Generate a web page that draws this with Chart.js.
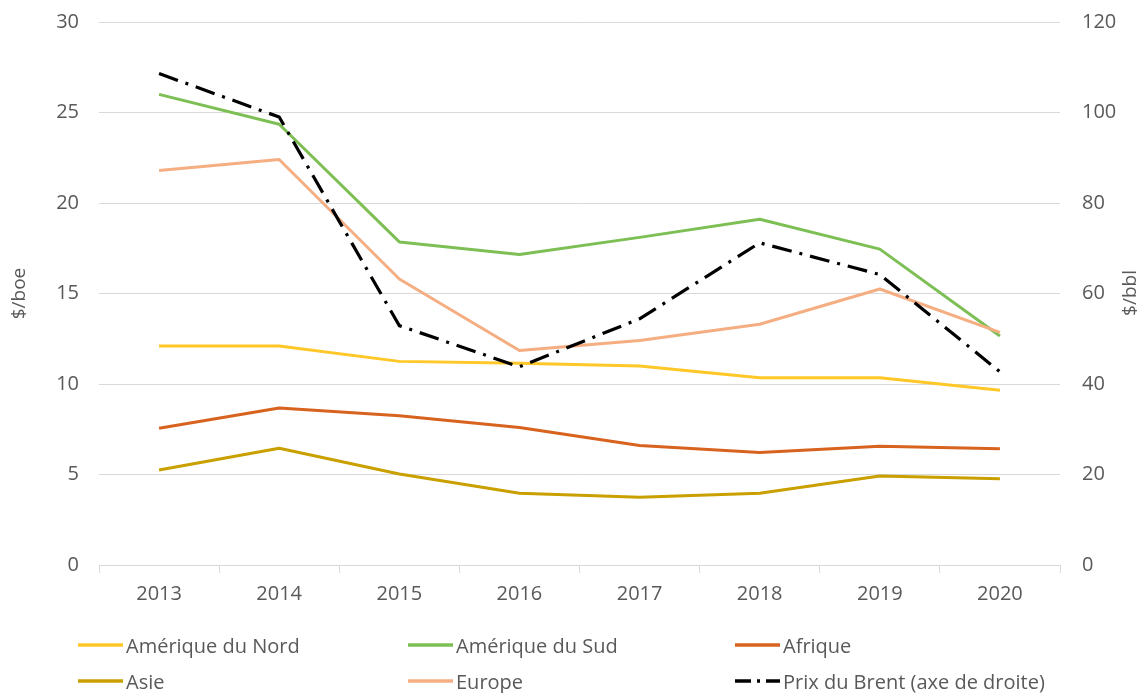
<!DOCTYPE html>
<html>
<head>
<meta charset="utf-8">
<script src="https://cdn.jsdelivr.net/npm/chart.js@4/dist/chart.umd.min.js"></script>
<style>
  html, body { margin: 0; padding: 0; background: #fff; }
  #wrap { position: relative; width: 1145px; height: 693px; }
  #legend { position: absolute; left: 0; top: 0; width: 1145px; height: 693px; pointer-events: none;
            font-family: "Open Sans", sans-serif; font-size: 20px; color: #595959; }
  .item { position: absolute; display: flex; align-items: center; white-space: nowrap; }
  .item svg { display: block; margin-right: 3px; }
</style>
</head>
<body>
<div id="wrap">
  <canvas id="c" width="1145" height="693"></canvas>
  <div id="legend"></div>
</div>
<script>
const years = ["2013", "2014", "2015", "2016", "2017", "2018", "2019", "2020"];
const ameriqueNord = [12.1, 12.1, 11.25, 11.15, 11.0, 10.35, 10.35, 9.65];
const ameriqueSud = [26.0, 24.35, 17.85, 17.15, 18.1, 19.1, 17.45, 12.65];
const afrique = [7.55, 8.67, 8.25, 7.6, 6.6, 6.22, 6.56, 6.42];
const asie = [5.25, 6.45, 5.03, 3.96, 3.74, 3.96, 4.92, 4.77];
const europe = [21.8, 22.4, 15.8, 11.85, 12.4, 13.3, 15.25, 12.85];
const brent = [108.6, 99.0, 52.9, 43.8, 54.4, 71.2, 64.2, 42.7];

const FONT = "'Open Sans', sans-serif";
const TXT = "#595959";
const GRID = "#d9d9d9";

function ds(label, data, color, axis, dash, width) {
  return { label, data, borderColor: color, backgroundColor: color, yAxisID: axis,
           borderWidth: width || 3, borderDash: dash || [], pointRadius: 0, tension: 0,
           fill: false, borderCapStyle: 'butt', borderJoinStyle: 'round' };
}

const datasets = [
  ds("Amérique du Nord", ameriqueNord, "#FFC727", "y"),
  ds("Amérique du Sud", ameriqueSud, "#7DBF55", "y"),
  ds("Afrique", afrique, "#D7631F", "y"),
  ds("Asie", asie, "#C9A000", "y"),
  ds("Europe", europe, "#F4AE82", "y"),
  ds("Prix du Brent (axe de droite)", brent, "#000000", "y1", [20, 8, 3, 8], 3.2)
];
datasets.forEach((d, i) => d.order = (i === 5 ? 0 : 6 - i));

const rightTitle = {
  id: 'rightTitle',
  afterDraw(chart) {
    const ctx = chart.ctx;
    ctx.save();
    ctx.translate(1131, 293);
    ctx.rotate(-Math.PI / 2);
    ctx.font = "19px " + FONT;
    ctx.fillStyle = TXT;
    ctx.textAlign = 'center';
    ctx.textBaseline = 'middle';
    ctx.fillText("$/bbl", 0, 0);
    ctx.restore();
  }
};

const chart = new Chart(document.getElementById('c'), {
  type: 'line',
  data: { labels: years, datasets },
  plugins: [rightTitle],
  options: {
    responsive: false,
    animation: false,
    layout: { padding: { left: 0, right: 0, top: 22, bottom: 83 } },
    plugins: { legend: { display: false }, tooltip: { enabled: false } },
    scales: {
      x: {
        offset: true,
        grid: { display: true, drawOnChartArea: false, drawTicks: true, tickLength: 8, color: GRID, offset: true },
        border: { display: true, color: GRID, width: 1 },
        ticks: { color: TXT, font: { family: FONT, size: 20 }, padding: 9, maxRotation: 0 },
        afterFit(s) { s.height = 45; s.paddingLeft = 0; s.paddingRight = 0; }
      },
      y: {
        position: 'left', min: 0, max: 30,
        ticks: { stepSize: 5, color: TXT, font: { family: FONT, size: 20 }, padding: 20 },
        grid: { color: GRID, drawTicks: false, lineWidth: 1 },
        border: { display: false },
        title: { display: true, text: "$/boe", color: TXT, font: { family: FONT, size: 19 }, padding: { top: 8, bottom: 0 } },
        afterFit(s) { s.width = 99; s.paddingTop = 0; s.paddingBottom = 0; }
      },
      y1: {
        position: 'right', min: 0, max: 120,
        ticks: { stepSize: 20, color: TXT, font: { family: FONT, size: 20 }, padding: 22 },
        grid: { display: false, drawTicks: false },
        border: { display: false },
        afterFit(s) { s.width = 85; s.paddingTop = 0; s.paddingBottom = 0; }
      }
    }
  }
});

const legendEl = document.getElementById('legend');
const pos = [[78, 645], [408, 645], [735, 645], [78, 681], [408, 681], [735, 681]];
datasets.forEach((d, k) => {
  const [x, y] = pos[k];
  const item = document.createElement('div');
  item.className = 'item';
  item.style.left = x + 'px';
  item.style.top = (y - 14) + 'px';
  item.style.height = '28px';
  const dash = d.borderDash.length ? 'stroke-dasharray="16,6,3,6"' : '';
  item.innerHTML = '<svg width="45" height="10"><line x1="0" y1="5" x2="45" y2="5" stroke="' + d.borderColor +
    '" stroke-width="3.5" ' + dash + '/></svg><span>' + d.label + '</span>';
  legendEl.appendChild(item);
});
</script>
</body>
</html>
